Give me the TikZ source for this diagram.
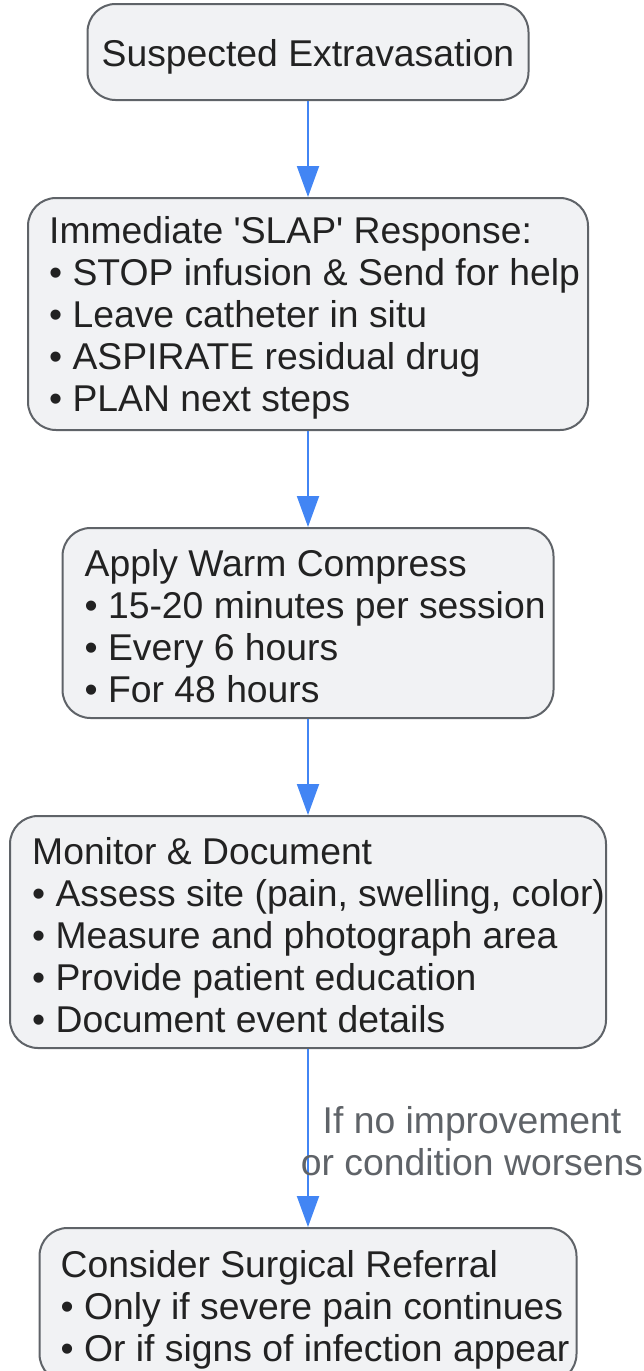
\documentclass[tikz,border=0pt]{standalone}
\usepackage{fontspec}
\setmainfont{Liberation Sans}
\usetikzlibrary{arrows.meta,calc}
\definecolor{boxfill}{HTML}{F1F2F4}
\definecolor{boxline}{HTML}{5F6368}
\definecolor{arrowblue}{HTML}{4285F4}
\definecolor{txtcol}{HTML}{222222}
\definecolor{lblcol}{HTML}{5F6368}
\begin{document}
\begin{tikzpicture}[x=1pt,y=-1pt,
  box/.style={draw=boxline, fill=boxfill, line width=2pt, rounded corners=28pt, inner sep=0pt},
  txt/.style={text=txtcol, font=\fontsize{37.3}{42}\selectfont, align=left, inner sep=0pt, anchor=west},
  arr/.style={draw=arrowblue, line width=2pt, -{Triangle[width=22pt,length=31pt]}},
  lbl/.style={text=lblcol, font=\fontsize{37.3}{42}\selectfont, align=center, inner sep=0pt}]
\useasboundingbox (0,0) rectangle (643,1371);
\node[box, minimum width=441pt, minimum height=96pt] (b1) at (308,52) {};
\node[txt, anchor=center] (t1) at ($(b1.center)+(0,5)$) {Suspected Extravasation};
\node[box, minimum width=560pt, minimum height=232pt] (b2) at (308,314) {};
\node[txt] (t2) at ($(b2.west)+(22,4)$) {Immediate \textquotesingle SLAP\textquotesingle{} Response:\\\textbullet{} STOP infusion \& Send for help\\\textbullet{} Leave catheter in situ\\\textbullet{} ASPIRATE residual drug\\\textbullet{} PLAN next steps};
\node[box, minimum width=491pt, minimum height=190pt] (b3) at (308,623) {};
\node[txt] (t3) at ($(b3.west)+(23,3)$) {Apply Warm Compress\\\textbullet{} 15-20 minutes per session\\\textbullet{} Every 6 hours\\\textbullet{} For 48 hours};
\node[box, minimum width=596pt, minimum height=232pt] (b4) at (308,932) {};
\node[txt] (t4) at ($(b4.west)+(23,3)$) {Monitor \& Document\\\textbullet{} Assess site (pain, swelling, color)\\\textbullet{} Measure and photograph area\\\textbullet{} Provide patient education\\\textbullet{} Document event details};
\node[box, minimum width=537pt, minimum height=154pt] (b5) at (308,1305) {};
\node[txt] (t5) at ($(b5.west)+(22,5)$) {Consider Surgical Referral\\\textbullet{} Only if severe pain continues\\\textbullet{} Or if signs of infection appear};
\draw[arr] (b1) -- (b2);
\draw[arr] (b2) -- (b3);
\draw[arr] (b3) -- (b4);
\draw[arr] (b4) -- node[lbl, xshift=164pt, yshift=-3pt] (l1) {If no improvement\\or condition worsens} (b5);
\end{tikzpicture}
\end{document}
